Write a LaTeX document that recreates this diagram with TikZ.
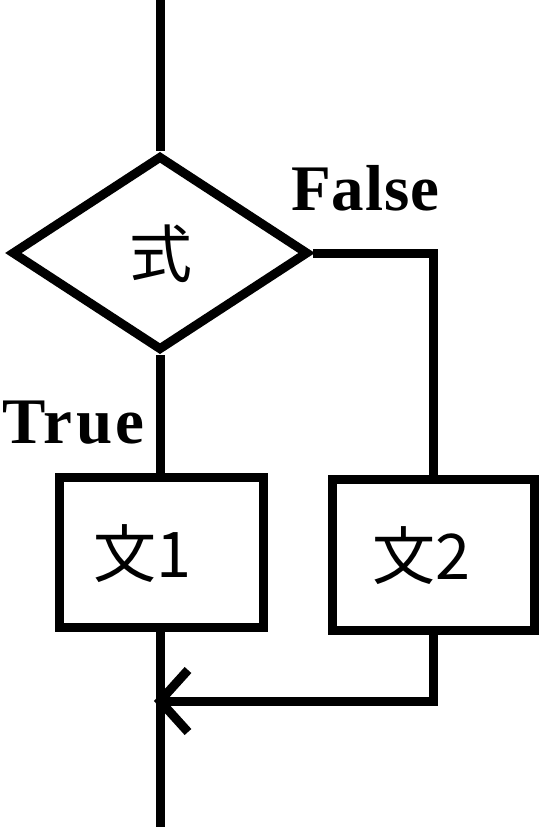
\documentclass[tikz,border=0pt]{standalone}
\usepackage{fontspec}
\setmainfont{Liberation Serif}
\newfontfamily\cjk{Noto Sans CJK JP}
\usetikzlibrary{shapes.geometric}
\begin{document}
\begin{tikzpicture}[x=1pt,y=-1pt,
  ln/.style={line width=9pt, line cap=butt, line join=miter},
  dec/.style={diamond, draw, line width=9pt, minimum width=297pt, minimum height=195pt, inner sep=0pt},
  box/.style={rectangle, draw, line width=9pt, inner sep=0pt},
  lbl/.style={font=\fontsize{65}{65}\selectfont\bfseries, inner sep=0pt, anchor=base west},
  jp/.style={font=\cjk\fontsize{63}{63}\selectfont, inner sep=0pt}]
\useasboundingbox (0,0) rectangle (541,827);
\node[dec] (d) at (160,253) {};
\node[jp] (dt) at (161,254) {式};
\node[box, minimum width=204pt, minimum height=150pt] (b1) at (161,552.5) {};
\node[box, minimum width=202pt, minimum height=151pt] (b2) at (433.5,555) {};
\node[jp] (t1) at (142,554) {文1};
\node[jp] (t2) at (421,556) {文2};
\node[lbl] (fl) at (291,210) {\addfontfeature{LetterSpace=1.5}False};
\node[lbl] (tr) at (2,443) {\addfontfeature{LetterSpace=5}True};
\coordinate (top) at (160,0);
\coordinate (bot) at (160,827);
\coordinate (m) at (160,701);
\draw[ln] (top) -- (d.north);
\draw[ln] (d.south) -- (d.south |- b1.north);
\draw[ln] (d.east) -| (b2.north);
\draw[ln] (b1.south -| bot) -- (bot);
\draw[ln] (b2.south) |- (m);
\draw[ln] (m) ++(28,-31) -- (m) -- ++(28,31);
\end{tikzpicture}
\end{document}
